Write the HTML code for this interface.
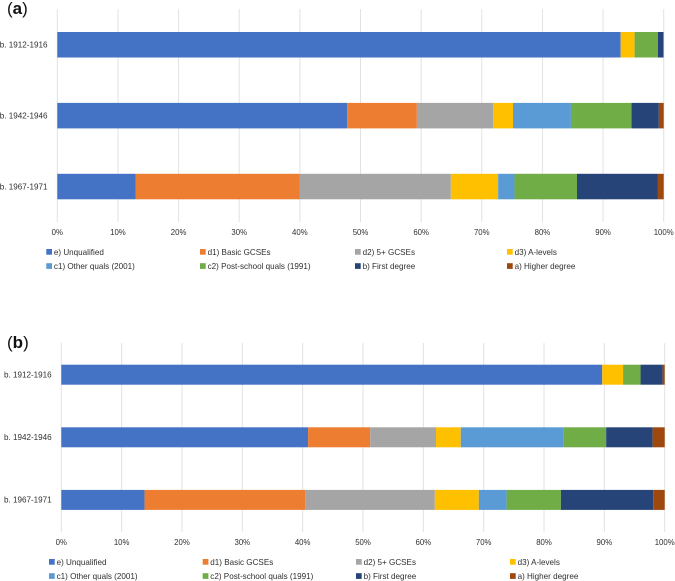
<!DOCTYPE html>
<html lang="en">
<head>
<meta charset="utf-8">
<title>Qualifications by birth cohort</title>
<style>
  html, body { margin: 0; padding: 0; background: #fff; }
  #figure { display: block; width: 675px; height: 581px; }
  text { font-family: "Liberation Sans", sans-serif; fill: #2f2f2f; }
</style>
</head>
<body>
<svg id="figure" xmlns="http://www.w3.org/2000/svg" width="675" height="581" viewBox="0 0 675 581"></svg>
<script>
const categories = ["b. 1912-1916", "b. 1942-1946", "b. 1967-1971"];
const tickValues = [0, 10, 20, 30, 40, 50, 60, 70, 80, 90, 100];
const seriesNames = ["e) Unqualified", "d1) Basic GCSEs", "d2) 5+ GCSEs", "d3) A-levels", "c1) Other quals (2001)", "c2) Post-school quals (1991)", "b) First degree", "a) Higher degree"];
const seriesKeys = ["unqualified", "basic-gcses", "five-plus-gcses", "a-levels", "other-quals", "post-school-quals", "first-degree", "higher-degree"];
const seriesColors = ["#4472c4", "#ed7d31", "#a5a5a5", "#ffc000", "#5b9bd5", "#70ad47", "#264478", "#9e480e"];

const panelAUnqualified = [92.9, 47.8, 12.9];
const panelABasicGcses = [0, 11.5, 27.1];
const panelAFivePlusGcses = [0, 12.6, 24.9];
const panelAALevels = [2.3, 3.25, 7.8];
const panelAOtherQuals = [0, 9.55, 2.7];
const panelAPostSchool = [3.86, 10, 10.3];
const panelAFirstDegree = [0.84, 4.5, 13.35];
const panelAHigherDegree = [0.1, 0.8, 0.95];

const panelBUnqualified = [89.65, 40.9, 13.8];
const panelBBasicGcses = [0, 10.3, 26.6];
const panelBFivePlusGcses = [0, 10.9, 21.5];
const panelBALevels = [3.45, 4.1, 7.3];
const panelBOtherQuals = [0, 17, 4.6];
const panelBPostSchool = [2.9, 7.1, 9];
const panelBFirstDegree = [3.65, 7.7, 15.3];
const panelBHigherDegree = [0.35, 2, 1.9];

const panelASeries = [panelAUnqualified, panelABasicGcses, panelAFivePlusGcses, panelAALevels, panelAOtherQuals, panelAPostSchool, panelAFirstDegree, panelAHigherDegree];
const panelBSeries = [panelBUnqualified, panelBBasicGcses, panelBFivePlusGcses, panelBALevels, panelBOtherQuals, panelBPostSchool, panelBFirstDegree, panelBHigherDegree];

const svg = document.getElementById('figure');
const NS = 'http://www.w3.org/2000/svg';

function make(parent, tag, attrs, content) {
  const el = document.createElementNS(NS, tag);
  for (const k in attrs) el.setAttribute(k, attrs[k]);
  if (content !== undefined) el.textContent = content;
  parent.appendChild(el);
  return el;
}

function drawPanel(prefix, letter, series, L) {
  const x = v => L.x0 + (v / 100) * (L.x100 - L.x0);
  const y = i => L.bandTop + i * L.bandStep;

  const group = make(svg, 'g', {});
  
  

  const label = make(group, 'text', { x: L.labelX, y: L.labelY, 'font-size': 17, style: 'fill:#111' });
  
  
  make(label, 'tspan', {}, '(');
  make(label, 'tspan', { 'font-weight': 'bold' }, letter);
  make(label, 'tspan', {}, ')');

  tickValues.forEach(t => {
    const grid = make(group, 'line', { x1: x(t), x2: x(t), y1: L.gridTop, y2: L.gridBottom, stroke: '#e2e2e2', 'stroke-width': 1 });
    
    
    const tick = make(group, 'text', { x: x(t), y: L.tickY, 'text-anchor': 'middle', 'font-size': 7.8 }, t + '%');
    
    
  });

  categories.forEach((cat, i) => {
    const catLabel = make(group, 'text', { x: L.catX, y: y(i) + L.barH / 2 + 2.7, 'text-anchor': 'end', 'font-size': 8.1 }, cat);
    
    
    let cum = 0;
    series.forEach((vals, s) => {
      const v = vals[i];
      if (v > 0) {
        const seg = make(group, 'rect', { x: x(cum), y: y(i), width: x(cum + v) - x(cum), height: L.barH, fill: seriesColors[s] });
        
        
      }
      cum += v;
    });
  });

  seriesNames.forEach((name, s) => {
    const col = s % 4;
    const row = Math.floor(s / 4);
    const ly = L.legendY + row * L.legendStep;
    const swatch = make(group, 'rect', { x: L.swatchX[col], y: ly - 6, width: 5.7, height: 5.7, fill: seriesColors[s] });
    
    
    const txt = make(group, 'text', { x: L.swatchX[col] + 7.6, y: ly, 'font-size': 8.1 }, name);
    
    
  });
}

drawPanel('a', 'a', panelASeries, {
  x0: 57.3, x100: 663.7, gridTop: 9, gridBottom: 222, bandTop: 32, bandStep: 70.9, barH: 25.5,
  tickY: 235, catX: 47.5, legendY: 255, legendStep: 14.2, swatchX: [46.3, 200, 355, 507],
  labelX: 7, labelY: 14
});
drawPanel('b', 'b', panelBSeries, {
  x0: 61.3, x100: 664.7, gridTop: 343, gridBottom: 532, bandTop: 364.7, bandStep: 62.6, barH: 20,
  tickY: 545, catX: 51.7, legendY: 565, legendStep: 14.2, swatchX: [49, 202.7, 356, 510],
  labelX: 7, labelY: 348
});
</script>
</body>
</html>
